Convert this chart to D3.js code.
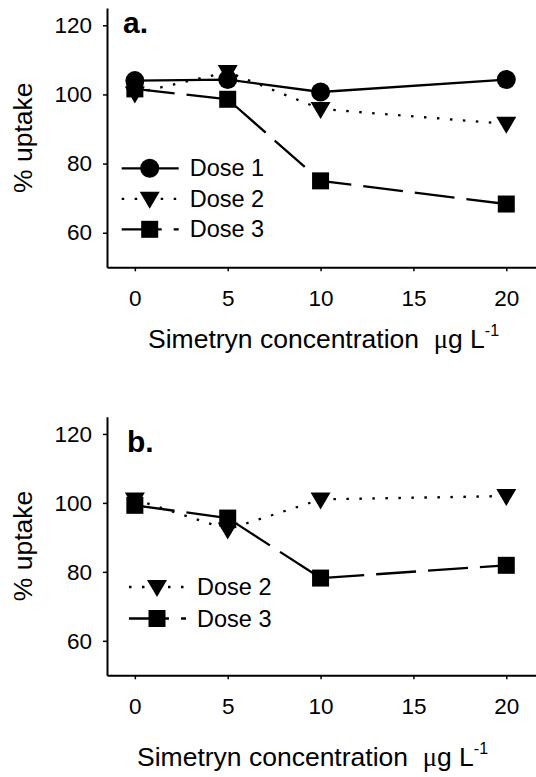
<!DOCTYPE html>
<html>
<head>
<meta charset="utf-8">
<script src="https://cdnjs.cloudflare.com/ajax/libs/d3/7.8.5/d3.min.js"></script>
<style>
body { margin: 0; background: #fff; }
svg { display: block; }
text { font-family: "Liberation Sans", Arial, sans-serif; fill: #000; }
</style>
</head>
<body>
<script>
var width = 536;
var height = 777;

// data
var concentrations = [0, 5, 10, 20];
var xTicks = [0, 5, 10, 15, 20];
var yTicks = [60, 80, 100, 120];
var seriesNames = ["Dose 1", "Dose 2", "Dose 3"];

var dose1A = [104.0, 104.3, 100.7, 104.3];
var dose2A = [100.3, 106.5, 95.8, 91.5];
var dose3A = [101.6, 98.6, 75.0, 68.3];

var dose2B = [101.0, 92.3, 101.0, 102.0];
var dose3B = [99.3, 95.6, 78.2, 81.9];

var styles = {
	"Dose 1": {dash: null, symbol: "circle"},
	"Dose 2": {dash: "2.5,10.5", symbol: "triangle"},
	"Dose 3": {dash: "40,12", symbol: "square"}
};

var svg = d3.select("body").append("svg")
	.attr("width", width)
	.attr("height", height);

var drawSymbol = function(g, kind, cx, cy) {
	if (kind == "circle") {
		g.append("circle").attr("cx", cx).attr("cy", cy).attr("r", 9.5).attr("fill", "#000");
	} else if (kind == "triangle") {
		g.append("path")
			.attr("d", "M" + (cx - 10) + "," + (cy - 7) + "L" + (cx + 10) + "," + (cy - 7) + "L" + cx + "," + (cy + 10) + "Z")
			.attr("fill", "#000");
	} else {
		g.append("rect").attr("x", cx - 8.5).attr("y", cy - 8.5).attr("width", 17).attr("height", 17).attr("fill", "#000");
	}
}

var drawPanel = function(p) {
	var g = svg.append("g");
	var x = d3.scaleLinear().domain([-1.5, 21.6]).range([107, 536]);
	var y = d3.scaleLinear().domain([50, 125]).range([p.bottom, p.top]);

	var yAxis = g.append("g")
		.attr("transform", "translate(107,0)")
		.call(d3.axisLeft(y).tickValues(yTicks).tickSize(4).tickSizeOuter(0).tickPadding(11));
	var xAxis = g.append("g")
		.attr("transform", "translate(0," + p.bottom + ")")
		.call(d3.axisBottom(x).tickValues(xTicks).tickSize(4).tickSizeOuter(0).tickPadding(19));

	[xAxis, yAxis].forEach(function(a) {
		a.select(".domain").attr("stroke", "#000").attr("stroke-width", 2);
		a.selectAll(".tick line").attr("stroke", "#000").attr("stroke-width", 1.5);
		a.selectAll(".tick text")
			.attr("font-size", 22.5)
			.attr("font-family", "Liberation Sans, Arial, sans-serif")
			.attr("fill", "#000");
	});

	var line = d3.line()
		.x(function(d) { return x(d[0]); })
		.y(function(d) { return y(d[1]); });

	p.series.forEach(function(s) {
		var pts = concentrations.map(function(c, i) { return [c, s.values[i]]; });
		var st = styles[s.name];
		g.append("path")
			.datum(pts)
			.attr("d", line)
			.attr("fill", "none")
			.attr("stroke", "#000")
			.attr("stroke-width", 2.3)
			.attr("stroke-dasharray", st.dash);
		pts.forEach(function(d) {
			drawSymbol(g, st.symbol, x(d[0]), y(d[1]));
		});
	});

	// legend
	p.series.forEach(function(s, i) {
		var st = styles[s.name];
		var ly = p.legendY + i * p.legendStep;
		g.append("line")
			.attr("x1", p.legendX).attr("x2", p.legendX + 57)
			.attr("y1", ly).attr("y2", ly)
			.attr("stroke", "#000")
			.attr("stroke-width", 2.3)
			.attr("stroke-dasharray", st.dash);
		drawSymbol(g, st.symbol, p.legendX + 28, ly);
		g.append("text")
			.attr("x", p.legendX + 68)
			.attr("y", ly + 8)
			.attr("font-size", 23.5)
			.text(s.name);
	});

	g.append("text")
		.attr("x", p.labelX)
		.attr("y", p.labelY)
		.attr("font-size", 30)
		.attr("font-weight", "bold")
		.text(p.label);

	g.append("text")
		.attr("transform", "translate(32," + ((p.top + p.bottom) / 2) + ") rotate(-90)")
		.attr("text-anchor", "middle")
		.attr("font-size", 26.5)
		.text("% uptake");

	var t = g.append("text")
		.attr("x", p.titleX)
		.attr("y", p.titleY)
		.attr("font-size", 26.5)
		.style("white-space", "pre");
	t.append("tspan").text("Simetryn concentration  ");
	t.append("tspan").attr("font-family", "Liberation Serif, serif").text("\u03bc");
	t.append("tspan").text("g L");
	t.append("tspan").attr("font-size", 16).attr("dy", -12).text("-1");
}

drawPanel({
	top: 8, bottom: 267.3,
	label: "a.", labelX: 123, labelY: 32.5,
	titleX: 148, titleY: 348,
	legendX: 121.7, legendY: 168.3, legendStep: 30.5,
	series: [
		{name: "Dose 1", values: dose1A},
		{name: "Dose 2", values: dose2A},
		{name: "Dose 3", values: dose3A}
	]
});

drawPanel({
	top: 416.7, bottom: 675.3,
	label: "b.", labelX: 127, labelY: 451.7,
	titleX: 137, titleY: 766,
	legendX: 129, legendY: 587, legendStep: 31.5,
	series: [
		{name: "Dose 2", values: dose2B},
		{name: "Dose 3", values: dose3B}
	]
});
</script>
</body>
</html>
